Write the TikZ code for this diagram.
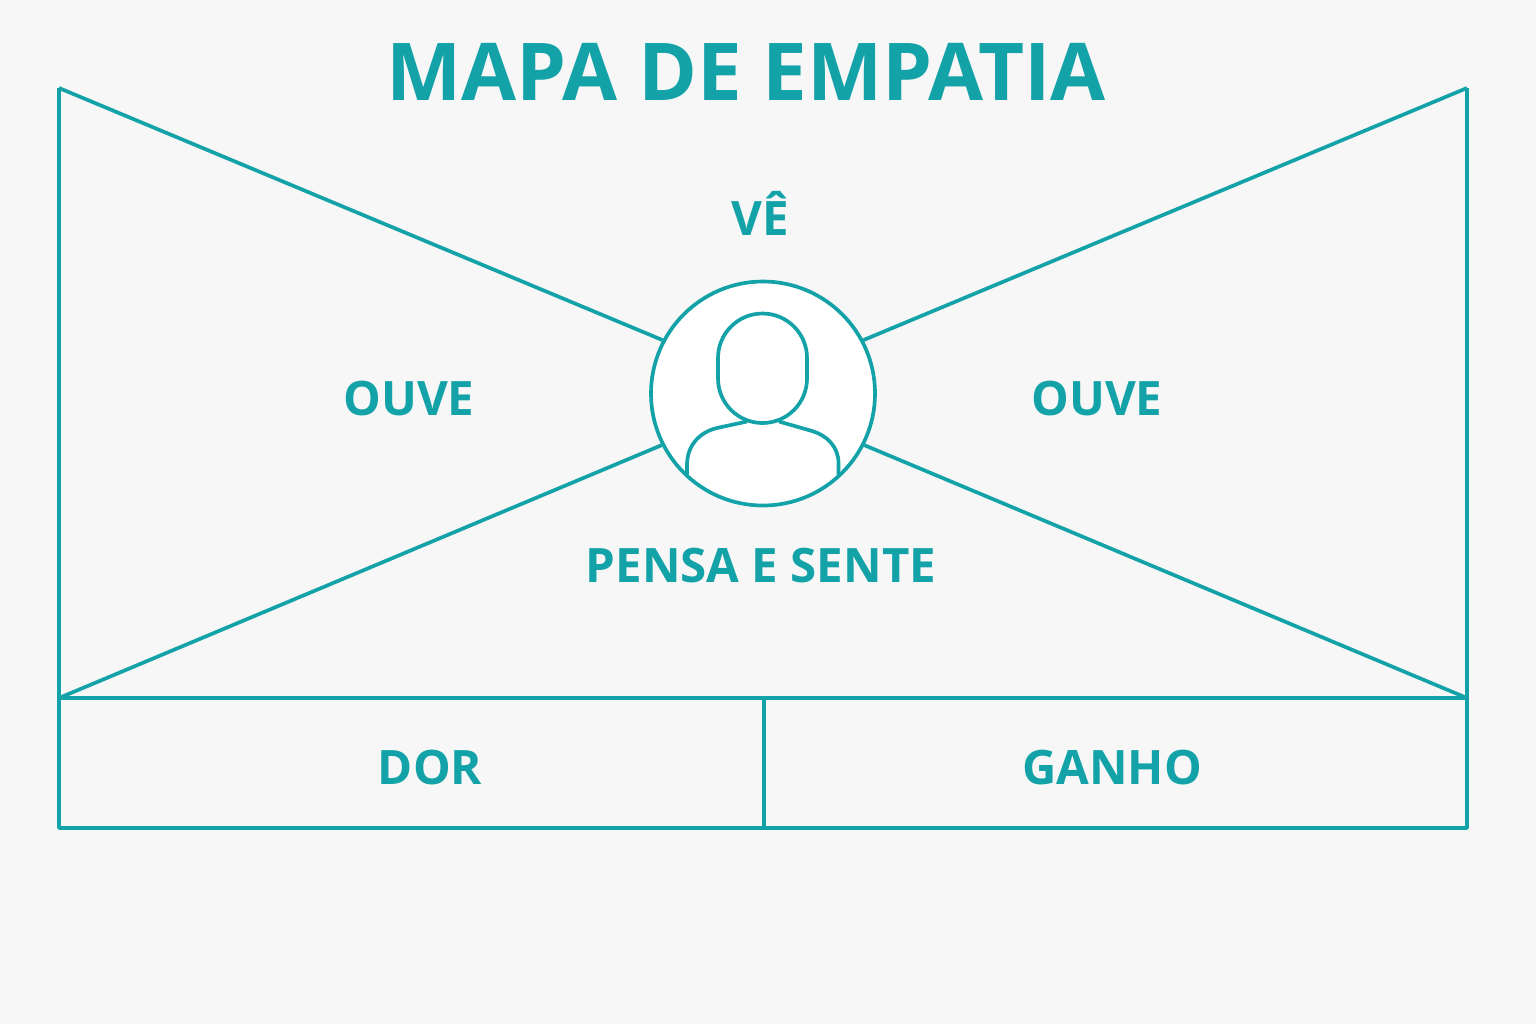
\documentclass[tikz,border=0pt]{standalone}
\usepackage{tikz}
\usepackage{xcolor}
\usepackage{fontspec}
\setmainfont{Open Sans}
\definecolor{mapteal}{HTML}{12A2A8}
\definecolor{mapback}{HTML}{F7F7F7}
\tikzset{
  mapline/.style={draw=mapteal,line width=1.05pt,line join=round},
  maplabel/.style={text=mapteal,font=\fontsize{13.5}{16}\selectfont\bfseries,anchor=base,inner sep=0pt},
  maptitle/.style={text=mapteal,font=\fontsize{22.7}{28}\selectfont\bfseries,anchor=base,inner sep=0pt},
  hubcircle/.style={mapline,circle,fill=white,minimum size=2.24cm,inner sep=0pt}
}
\begin{document}
\begin{tikzpicture}
\fill [mapback] (0,0) rectangle (15.36,-10.24);
\useasboundingbox (0,0) rectangle (15.36,-10.24);
\coordinate (tl) at (0.59,-0.88);
\coordinate (tr) at (14.67,-0.88);
\coordinate (ml) at (0.59,-6.98);
\coordinate (mr) at (14.67,-6.98);
\coordinate (bl) at (0.59,-8.28);
\coordinate (br) at (14.67,-8.28);
\coordinate (mt) at (7.64,-6.98);
\coordinate (mb) at (7.64,-8.28);
\node [hubcircle] (hub) at (7.63,-3.935) {};
% outer frame and lower boxes
\draw [mapline] (tl) -- (bl) -- (br) -- (tr);
\draw [mapline] (ml) -- (mr);
\draw [mapline] (mt) -- (mb);
% diagonals
\draw [mapline] (tl) -- (hub.152);
\draw [mapline] (tr) -- (hub.28);
\draw [mapline] (ml) -- (hub.207);
\draw [mapline] (mr) -- (hub.333);
% person
\draw [mapline] (7.18,-3.58) arc (180:0:0.445) -- (8.07,-3.785)
  arc (0:-180:0.445) -- cycle;
\draw [mapline] (6.87,-4.745) -- (6.87,-4.65) .. controls (6.87,-4.45) and (7.0,-4.32) .. (7.17,-4.28)
  -- (7.47,-4.215);
\draw [mapline] (8.385,-4.75) -- (8.385,-4.63) .. controls (8.385,-4.47) and (8.27,-4.353) .. (8.12,-4.31)
  -- (7.79,-4.215);
% labels
\node [maptitle] (title) at (7.46,-1.0) {MAPA DE EMPATIA};
\node [maplabel] (ve) at (7.6,-2.35) {VÊ};
\node [maplabel] (ouveleft) at (4.09,-4.15) {OUVE};
\node [maplabel] (ouveright) at (10.97,-4.15) {OUVE};
\node [maplabel] (pensa) at (7.61,-5.82) {PENSA E SENTE};
\node [maplabel] (dor) at (4.3,-7.84) {DOR};
\node [maplabel] (ganho) at (11.12,-7.84) {GANHO};
\end{tikzpicture}
\end{document}
